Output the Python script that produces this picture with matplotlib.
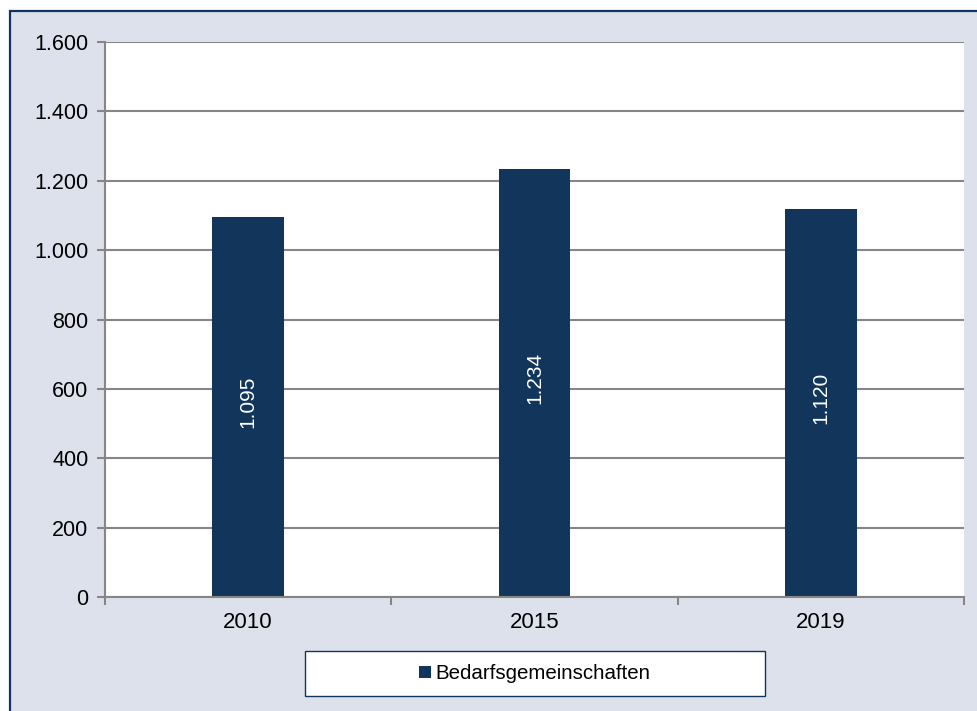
import matplotlib.pyplot as plt
from matplotlib.patches import Rectangle
import numpy as np

plt.rcParams['font.family'] = ['Liberation Sans', 'DejaVu Sans']

years = ['2010', '2015', '2019']
values = [1095, 1234, 1120]
bar_labels = ['1.095', '1.234', '1.120']
y_ticks = [0, 200, 400, 600, 800, 1000, 1200, 1400, 1600]
y_tick_labels = ['0', '200', '400', '600', '800', '1.000', '1.200', '1.400', '1.600']
series_name = 'Bedarfsgemeinschaften'

navy = '#12355b'
grey = '#868686'
W, H = 978, 711

fig = plt.figure(figsize=(9.78, 7.11), dpi=100, facecolor='white')
# outer chart area with dark border (right/bottom edge cut off)
fig.patches.append(Rectangle((10 / W, -0.05), 1.0, (H - 11) / H + 0.05,
                             transform=fig.transFigure, facecolor='#dde1eb',
                             edgecolor='#103561', linewidth=1.6, zorder=-2))
# legend box
fig.patches.append(Rectangle((305 / W, 1 - 696 / H), (765 - 305) / W, 45 / H,
                             transform=fig.transFigure, facecolor='white',
                             edgecolor='#103561', linewidth=1.0, zorder=-1))

ax = fig.add_axes([105 / W, 1 - 597 / H, (964 - 105) / W, (597 - 42) / H])
ax.set_facecolor('white')

x = np.arange(len(years))
bars = ax.bar(x, values, width=0.25, color=navy, zorder=3, label=series_name)

for b, lab in zip(bars, bar_labels):
    ax.text(b.get_x() + b.get_width() / 2, b.get_height() / 2 + 15, lab, rotation=90,
            ha='center', va='center', color='white', fontsize=15, zorder=4)

ax.set_xlim(-0.5, len(years) - 0.5)
ax.set_ylim(0, 1600)
ax.set_yticks(y_ticks)
ax.set_yticklabels(y_tick_labels)
ax.set_xticks(x)
ax.set_xticklabels(years)
ax.set_xticks(np.arange(len(years) + 1) - 0.5, minor=True)
ax.tick_params(axis='x', which='major', length=0, pad=11, labelsize=16)
ax.tick_params(axis='x', which='minor', length=6, width=1.5, color=grey, direction='out')
ax.tick_params(axis='y', length=6, width=1.5, color=grey, labelsize=15.5, pad=6)
ax.yaxis.grid(True, color=grey, linewidth=1.5, zorder=1)

for s in ['top', 'right']:
    ax.spines[s].set_visible(False)
for s in ['left', 'bottom']:
    ax.spines[s].set_color(grey)
    ax.spines[s].set_linewidth(1.5)
    ax.spines[s].set_zorder(5)

leg = fig.legend(handles=[bars], labels=[series_name], loc='center',
                 bbox_to_anchor=((305 + 765) / 2 / W, 1 - 673.5 / H),
                 frameon=False, fontsize=14.8, handlelength=0.55,
                 handleheight=0.55, handletextpad=0.25)

fig.savefig('out.png', dpi=100, facecolor=fig.get_facecolor())
